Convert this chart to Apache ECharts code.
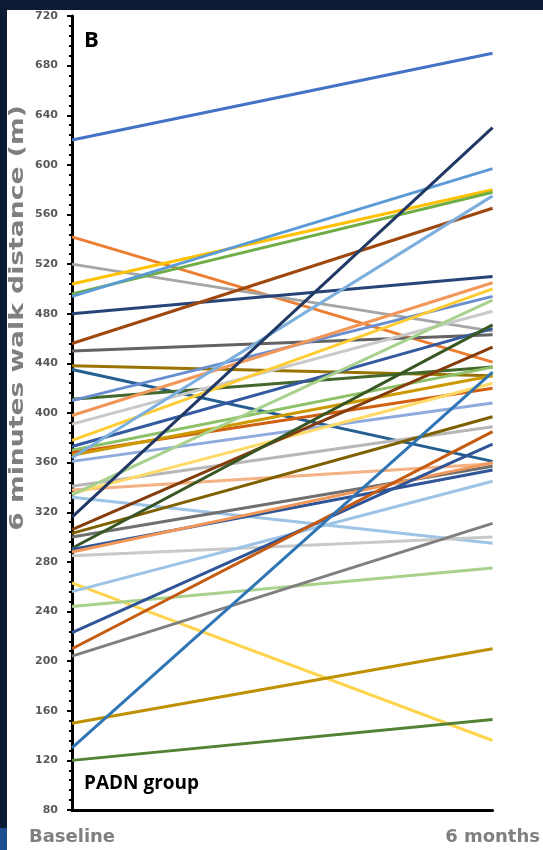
<!DOCTYPE html>
<html>
<head>
<meta charset="utf-8">
<script src="https://cdn.jsdelivr.net/npm/echarts@6/dist/echarts.min.js"></script>
<style>
html,body{margin:0;padding:0;background:#ffffff;}
#chart{width:543px;height:850px;}
</style>
</head>
<body>
<div id="chart"></div>
<script>
var categories = ['Baseline', '6 months'];
var yTicks = [80, 120, 160, 200, 240, 280, 320, 360, 400, 440, 480, 520, 560, 600, 640, 680, 720];
var baseline = [620, 542, 520, 504, 496, 494, 480, 456, 450, 438, 435, 411, 410, 398, 391, 378, 373, 370, 368, 366, 364, 361, 341, 338, 335, 334, 332, 316, 306, 303, 300, 291, 290, 288, 285, 263, 256, 244, 223, 210, 204, 150, 130, 120];
var sixMonths = [690, 441, 466, 580, 578, 597, 510, 565, 463, 430, 361, 437, 494, 505, 482, 500, 468, 437, 420, 430, 575, 408, 389, 359, 424, 491, 295, 630, 453, 397, 357, 471, 354, 360, 300, 136, 345, 275, 375, 385, 311, 210, 433, 153];
var palette = ['#4472C4', '#ED7D31', '#A5A5A5', '#FFC000', '#70AD47', '#5B9BD5', '#264478', '#9E480E', '#636363', '#997300', '#255E91', '#43682B', '#698ED0', '#F1975A', '#C9C9C9', '#FFCD33', '#335AA1', '#8CC168', '#D26012', '#CC9A00', '#7CAFDD', '#8FAADC', '#B7B7B7', '#F4B183', '#FFD966', '#A9D18E', '#9DC3E6', '#1F3864', '#843C0C', '#7F6000', '#6F6F6F', '#375623', '#2F5597', '#F1975A', '#C9C9C9', '#FFD44D', '#9DC3E6', '#A9D18E', '#2F5597', '#C55A11', '#7F7F7F', '#BF9000', '#2E75B6', '#548235'];

var series = baseline.map(function (b, i) {
  return {
    type: 'line',
    data: [b, sixMonths[i]],
    symbol: 'none',
    silent: true,
    lineStyle: { color: palette[i], width: 3 },
    z: 2
  };
});

var chart = echarts.init(document.getElementById('chart'), null, { renderer: 'canvas' });
chart.setOption({
  animation: false,
  backgroundColor: '#ffffff',
  grid: { left: 72, right: 50, top: 16, bottom: 40, containLabel: false },
  xAxis: {
    type: 'category',
    data: categories,
    boundaryGap: false,
    axisLine: { show: true, lineStyle: { color: '#000', width: 3 } },
    axisTick: { show: false },
    axisLabel: {
      margin: 18,
      color: '#7f7f7f',
      fontSize: 18,
      fontWeight: 'bold',
      fontFamily: 'DejaVu Sans'
    },
    splitLine: { show: false }
  },
  yAxis: {
    type: 'value',
    min: 80,
    max: 720,
    interval: 40,
    axisLine: { show: true, lineStyle: { color: '#000', width: 3 } },
    axisTick: { show: true, length: 5, lineStyle: { color: '#000', width: 2 } },
    minorTick: { show: true, splitNumber: 5, length: 3, lineStyle: { color: '#000', width: 2 } },
    axisLabel: {
      margin: 14,
      color: '#595959',
      fontSize: 11,
      fontWeight: 'bold',
      fontFamily: 'DejaVu Sans',
      formatter: function (v) { return yTicks.indexOf(v) >= 0 ? String(v) : ''; }
    },
    splitLine: { show: false }
  },
  series: series,
  graphic: [
    { type: 'rect', left: 0, top: 0, shape: { width: 543, height: 10 }, style: { fill: '#0b1a35' }, z: 100 },
    { type: 'rect', left: 0, top: 0, shape: { width: 7, height: 850 }, style: { fill: '#0b1a35' }, z: 100 },
    { type: 'rect', left: 0, top: 828, shape: { width: 7, height: 22 }, style: { fill: '#1d4f8f' }, z: 101 },
    {
      type: 'text', left: 84, top: 30, z: 100,
      style: { text: 'B', fontSize: 22, fontWeight: 'bold', fill: '#000', fontFamily: 'Open Sans' }
    },
    {
      type: 'text', left: 84, top: 774, z: 100,
      style: { text: 'PADN group', fontSize: 19, fontWeight: 'bold', fill: '#000', fontFamily: 'Open Sans' }
    },
    {
      type: 'text', x: 18, y: 318, rotation: Math.PI / 2, scaleX: 1.4, z: 100,
      style: { text: '6 minutes walk distance (m)', fontSize: 19, fontWeight: 'bold', fill: '#7f7f7f', fontFamily: 'DejaVu Sans', align: 'center', verticalAlign: 'middle' }
    }
  ]
});
</script>
</body>
</html>
